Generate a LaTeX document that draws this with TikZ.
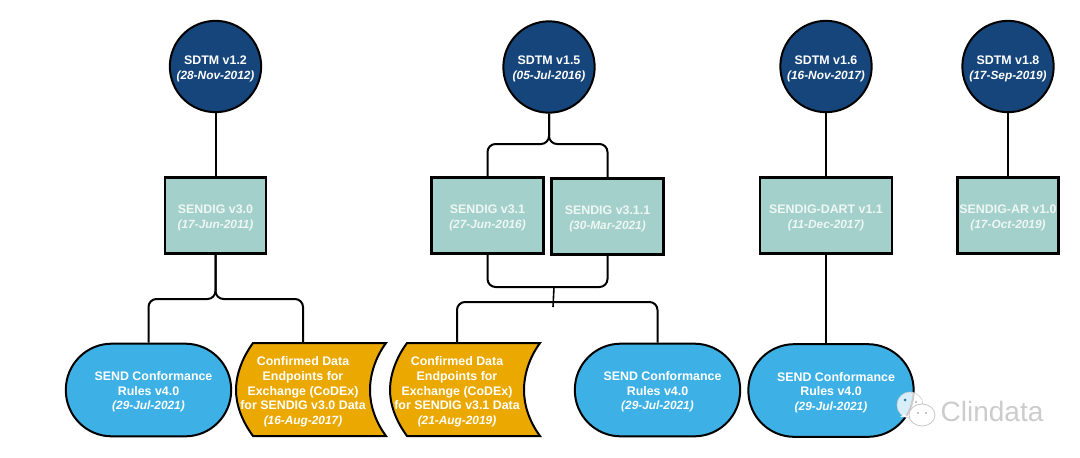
\documentclass[tikz,border=0pt]{standalone}
\usepackage{fontspec}
\setmainfont{Liberation Sans}
\definecolor{navy}{HTML}{15457A}
\definecolor{teal2}{HTML}{A3D0CA}
\definecolor{sky}{HTML}{3DB1E6}
\definecolor{gold}{HTML}{EBA900}
\definecolor{pale}{HTML}{EFF7F5}
\newcommand{\dt}[1]{{\fontsize{8.9pt}{11pt}\selectfont\textit{#1}}}
\newcommand{\tp}{\rule{0pt}{9.7pt}}
\begin{document}
\begin{tikzpicture}[x=0.75pt,y=-0.75pt,
  every node/.style={font=\fontsize{9.3pt}{11pt}\selectfont\bfseries,text=white,align=center,inner sep=0pt,line width=1.5pt},
  conn/.style={draw=black,line width=1.5pt,rounded corners=6pt},
  sdtm/.style={circle,draw=black,fill=navy,minimum size=68.5pt},
  ig/.style={rectangle,draw=black,line width=1.8pt,fill=teal2,minimum height=57pt,text=pale},
  rules/.style={rectangle,rounded corners=34.5pt,draw=black,fill=sky,minimum width=124pt,minimum height=69.5pt},
  tapebody/.style={draw=black,fill=gold,line width=1.5pt,line join=miter},
  tapetext/.style={minimum width=100.5pt,minimum height=69.5pt}]
\useasboundingbox (0,0) rectangle (1080,457);

% SDTM circles
\node[sdtm] (c12) at (215.5,66.5) {\tp SDTM v1.2\\\dt{(28-Nov-2012)}};
\node[sdtm] (c15) at (549,67) {\tp SDTM v1.5\\\dt{(05-Jul-2016)}};
\node[sdtm] (c16) at (826,66.5) {\tp SDTM v1.6\\\dt{(16-Nov-2017)}};
\node[sdtm] (c18) at (1008,66.5) {\tp SDTM v1.8\\\dt{(17-Sep-2019)}};

% Implementation guides
\node[ig,minimum width=76pt] (r30) at (215.5,215.5) {\tp SENDIG v3.0\\\dt{(17-Jun-2011)}};
\node[ig,minimum width=84pt] (r31) at (487.5,215.5) {\tp SENDIG v3.1\\\dt{(27-Jun-2016)}};
\node[ig,minimum width=84pt] (r311) at (607.5,216.5) {\tp SENDIG v3.1.1\\\dt{(30-Mar-2021)}};
\node[ig,minimum width=99pt] (rd) at (826,215.5) {\tp SENDIG-DART v1.1\\\dt{(11-Dec-2017)}};
\node[ig,minimum width=76pt] (ra) at (1008,215.5) {\tp SENDIG-AR v1.0\\\dt{(17-Oct-2019)}};

% Conformance rules
\node[rules] (p1) at (148.5,390) {\tp\hspace*{7.5pt}SEND Conformance\\Rules v4.0\\\dt{(29-Jul-2021)}};
\node[rules] (p2) at (657.5,390) {\tp\hspace*{7.5pt}SEND Conformance\\Rules v4.0\\\dt{(29-Jul-2021)}};
\node[rules] (p3) at (831,390.5) {\tp\hspace*{7.5pt}SEND Conformance\\Rules v4.0\\\dt{(29-Jul-2021)}};

% CoDEx tapes
\draw[tapebody] (253,343) -- (386,343) .. controls (375,358) and (370,375) .. (370,390)
  .. controls (370,405) and (375,421) .. (386,436) -- (253,436)
  .. controls (242,421) and (236,405) .. (236,390) .. controls (236,375) and (242,358) .. cycle;
\node[tapetext] (t1) at (303,390) {\tp Confirmed Data\\Endpoints for\\Exchange (CoDEx)\\for SENDIG v3.0 Data\\\dt{(16-Aug-2017)}};
\draw[tapebody] (407,343) -- (540,343) .. controls (529,358) and (524,375) .. (524,390)
  .. controls (524,405) and (529,421) .. (540,436) -- (407,436)
  .. controls (396,421) and (390,405) .. (390,390) .. controls (390,375) and (396,358) .. cycle;
\node[tapetext] (t2) at (457,390) {\tp Confirmed Data\\Endpoints for\\Exchange (CoDEx)\\for SENDIG v3.1 Data\\\dt{(21-Aug-2019)}};

% Junctions
\coordinate (j30) at (215.5,299);
\coordinate (j15) at (549,144);
\coordinate (jb) at (553,287);
\coordinate (jm) at (554,287);
\coordinate (je) at (553,307);
\coordinate (jh) at (553,302);

% Connectors
\draw[conn] (c12.south) -- (r30.north);
\draw[conn] (r30.south) -- (j30) -| (p1.north);
\draw[conn] (r30.south) -- (j30) -| (t1.north);
\draw[conn] (c15.south) -- (j15) -| (r31.north);
\draw[conn] (c15.south) -- (j15) -| (r311.north);
\draw[conn] (r31.south) |- (jb);
\draw[conn] (r311.south) |- (jb);
\draw[conn,line width=1.2pt] (jm) -- (je);
\draw[conn] (jh) -| (t2.north);
\draw[conn] (jh) -| (p2.north);
\draw[conn] (c16.south) -- (rd.north);
\draw[conn] (rd.south) -- (rd.south |- p3.north);
\draw[conn] (c18.south) -- (ra.north);

% Watermark
\draw[gray!35,line width=.5pt,fill=white,fill opacity=.8] (910,405) ellipse (13 and 13);
\fill[white,opacity=.8] (900,417) -- (904,414) -- (908,417) -- cycle;
\draw[gray!45,line width=.6pt,fill=white] (922,415) ellipse (13 and 11);
\fill[sky!70!black] (905,400) circle (1.5);
\fill[gray!60] (916,402) circle (1.2);
\fill[gray!60] (918,413) circle (1.2);
\fill[gray!60] (926,413) circle (1.2);
\node[font=\fontsize{21pt}{21pt}\selectfont,text=gray!40] (wm) at (992,411) {Clindata};
\end{tikzpicture}
\end{document}
